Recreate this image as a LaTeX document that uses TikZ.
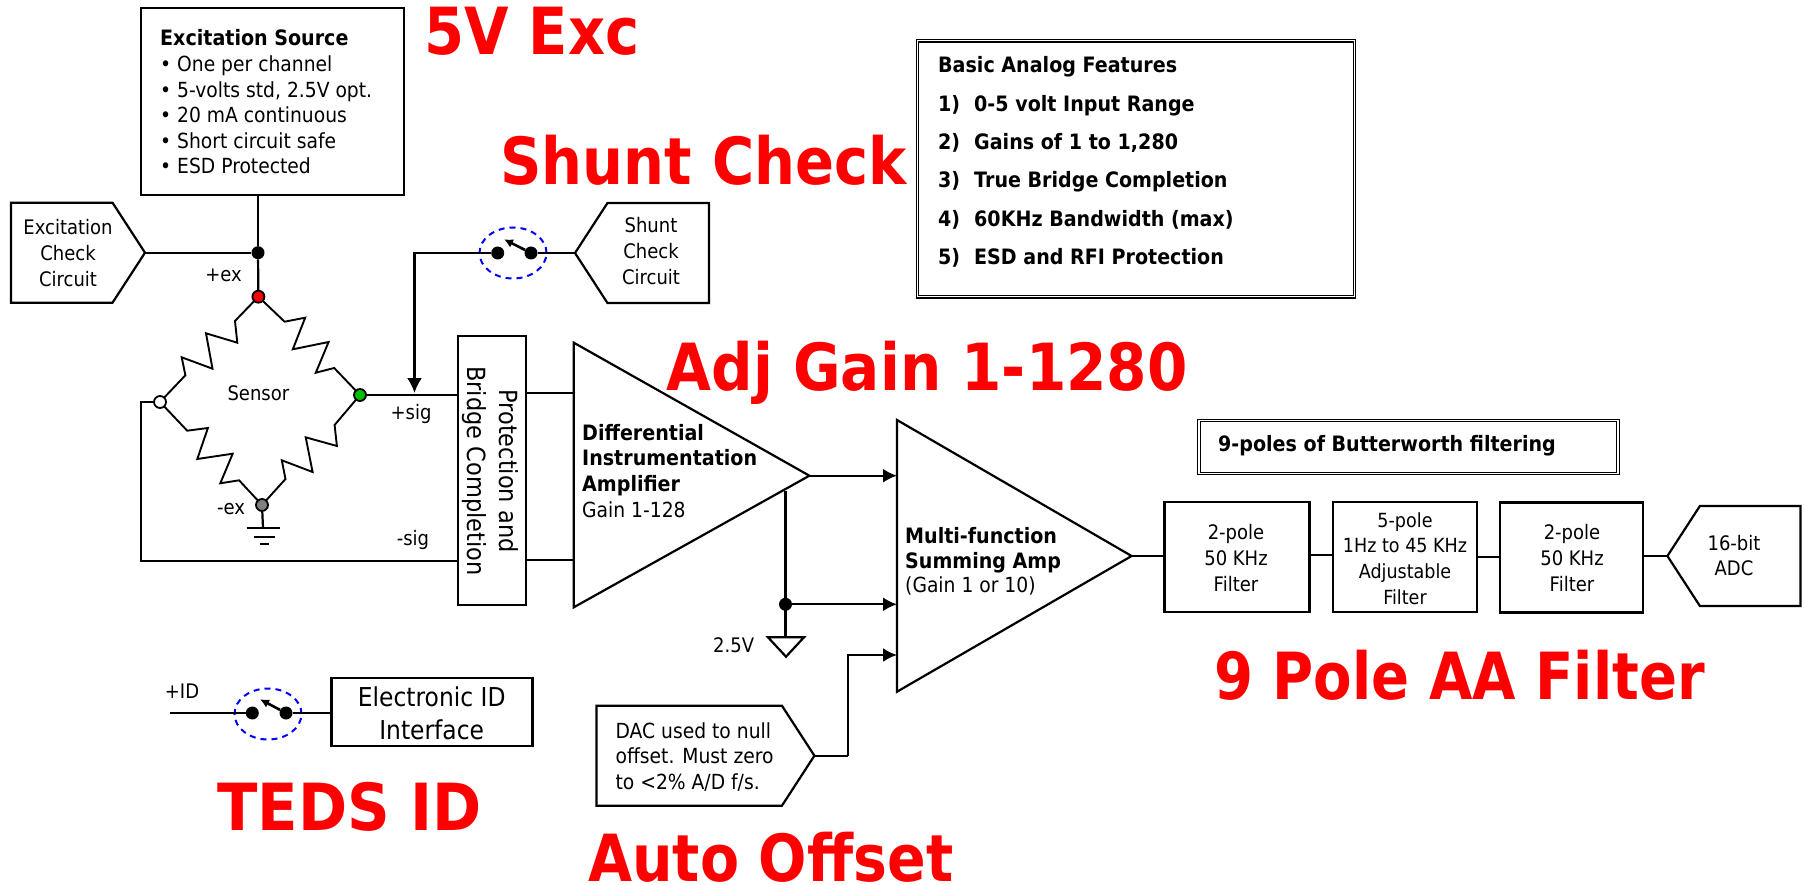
\documentclass[tikz,border=0pt]{standalone}
\usepackage{graphicx}
\usepackage{fontspec}
\usetikzlibrary{arrows.meta,shapes.symbols,shapes.geometric}
\setmainfont[FakeStretch=0.9]{DejaVu Sans}
\newfontfamily\headfont[FakeStretch=0.885]{DejaVu Sans}
\newcommand{\fsz}[2]{\fontsize{#1}{#2}\selectfont}
\tikzset{
	wire/.style={line width=2.2pt},
	feed/.style={wire, -{Latex[length=14pt,width=14pt]}},
	flip/.style={line width=2.6pt, -{Latex[length=9pt,width=9pt]}},
	box/.style={draw, line width=2.4pt, inner sep=0pt, outer sep=0pt},
	dblbox/.style={draw, double, double distance=1.3pt, line width=1.1pt, inner sep=0pt},
	tag/.style={signal, draw, line width=2.2pt, inner sep=0pt, outer sep=0pt, signal pointer angle=114, minimum height=100pt},
	jdot/.style={circle, fill=black, minimum size=13pt, inner sep=0pt},
	post/.style={circle, draw, line width=1.8pt, minimum size=12pt, inner sep=0pt},
	halo/.style={draw=blue, ellipse, line width=2pt, dash pattern=on 6pt off 5pt, minimum width=67pt, minimum height=51pt, inner sep=0pt},
	lbl/.style={font=\fsz{20}{25.6}, align=center, inner sep=0pt},
	lbll/.style={lbl, font=\fsz{20.8}{25.6}, align=left, anchor=west},
	head/.style={font=\headfont\bfseries\fsz{65}{65}, text=red, anchor=base west, inner sep=0pt},
}
\begin{document}
\begin{tikzpicture}[x=1pt,y=-1pt]
	\useasboundingbox (0,0) rectangle (1805,885);

	\node[box, minimum width=263, minimum height=187] (srcbox) at (272.2,101.5) {};
	\node[lbll] (srctxt) at (160,102) {{\fsz{21.2}{25.6}\textbf{Excitation Source}}\\\textbullet~One per channel\\\textbullet~5-volts std, 2.5V opt.\\\textbullet~20 mA continuous\\\textbullet~Short circuit safe\\\textbullet~ESD Protected};

	\node[tag, signal to=east, minimum width=134, anchor=east] (excchk) at (145,252.7) {};
	\node[lbl] (exctxt) at (68,253) {Excitation\\Check\\Circuit};
	\node[tag, signal to=west, minimum width=134, anchor=west] (shchk) at (575,253) {};
	\node[lbl] (shtxt) at (651,251) {Shunt\\Check\\Circuit};

	\node[jdot] (excjoin) at (258,252.7) {};
	\draw[wire] (srcbox.south -| excjoin) -- (excjoin);
	\draw[wire] (excchk.east) -- (excjoin);
	\node[lbl] (extop) at (223.6,275) {+ex};

	\coordinate (bridgetop) at (258.4,296.7);
	\coordinate (bridgeright) at (360,395);
	\coordinate (bridgeleft) at (160,402);
	\coordinate (bridgebot) at (262,505);
	\draw[wire, line width=1.9pt] (bridgetop) -- (284.6,321.7) -- (305.2,317.7) -- (292.8,349.3) -- (328.6,342) -- (315.8,372.7) -- (334.2,368) -- (bridgeright);
	\draw[wire, line width=1.9pt] (bridgetop) -- (235,321) -- (237.3,342.7) -- (206,333.3) -- (212.5,368.7) -- (181.7,357.3) -- (185.4,375.3) -- (bridgeleft);
	\draw[wire, line width=1.9pt] (bridgeleft) -- (187.2,430.7) -- (207.9,428) -- (197.3,459) -- (232.7,453.7) -- (220.3,483.3) -- (239.1,480.3) -- (bridgebot);
	\draw[wire, line width=1.9pt] (bridgeright) -- (334.6,425) -- (336.9,446) -- (305.7,437.3) -- (312.6,472) -- (281.8,460.3) -- (285.5,479) -- (bridgebot);
	\draw[wire] (excjoin) -- (bridgetop);
	\node[post, fill=red] (ptop) at (bridgetop) {};
	\node[post, fill=green!75!black] (pright) at (bridgeright) {};
	\node[post, fill=white] (pleft) at (bridgeleft) {};
	\node[post, fill=gray] (pbot) at (bridgebot) {};
	\node[lbl] (sensortxt) at (258.4,393.7) {Sensor};
	\node[lbl] (sigtop) at (411,414) {+sig};
	\node[lbl] (sigbot) at (413,540) {-sig};
	\node[lbl] (exbot) at (231,509) {-ex};

	\coordinate (gnd) at (263,527.7);
	\draw[wire] (pbot) -- (gnd);
	\draw[wire] (246.5,527.7) -- (280,527.7);
	\draw[wire] (254.3,536.7) -- (274.5,536.7);
	\draw[wire] (259.8,544) -- (269,544);

	\node[box, line width=2.2pt, minimum width=68, minimum height=268.7] (protbox) at (492,470.6) {};
	\node[lbl, rotate=-90, font=\fsz{25}{32}] (prottxt) at (490,471) {Protection and\\Bridge Completion};
	\coordinate (retcorner) at (141.3,561);
	\draw[wire] (pleft) -| (retcorner) -- (protbox.west |- retcorner);
	\draw[wire] (pright) -- (protbox.west |- pright);

	\node[jdot] (shsa) at (497.7,253) {};
	\node[jdot] (shsb) at (531,253) {};
	\coordinate (shtip) at (504,239.3);
	\node[halo] (shhalo) at (513,253) {};
	\draw[flip] (shsb) -- (shtip);
	\draw[wire] (shchk.west) -- (shsb);
	\coordinate (sigdrop) at (414.5,393);
	\draw[wire, -{Latex[length=15pt,width=15pt]}] (shsa) -| (sigdrop);

	\draw[wire] (573.8,342.7) -- (573.8,607.3) -- (809.4,475.7) -- cycle;
	\coordinate (aonea) at (573.8,392.7);
	\coordinate (aoneb) at (573.8,560);
	\coordinate (aoneout) at (809.4,475.7);
	\draw[wire] (protbox.east |- aonea) -- (aonea);
	\draw[wire] (protbox.east |- aoneb) -- (aoneb);
	\node[lbll, font=\bfseries\fsz{21.2}{25.6}] (aonetxt) at (582,460) {Differential\\Instrumentation\\Amplifier};
	\node[lbll] (aonegain) at (582,509.3) {Gain 1-128};

	\draw[wire] (897,420) -- (897,691.7) -- (1131.6,556) -- cycle;
	\coordinate (atwoa) at (897,475.7);
	\coordinate (atwob) at (897,604.3);
	\coordinate (atwoc) at (897,655);
	\coordinate (atwoout) at (1131.6,556);
	\draw[feed] (aoneout) -- (atwoa);
	\node[jdot] (refjoin) at (785.5,604.3) {};
	\coordinate (reftop) at (785.5,491);
	\coordinate (refbot) at (785.5,637.3);
	\draw[wire] (reftop) -- (refbot);
	\draw[feed] (refjoin) -- (atwob);
	\draw[wire] (768,637.3) -- (804,637.3) -- (786,656.7) -- cycle;
	\node[lbl] (reftxt) at (733.6,645) {2.5V};
	\node[lbll, font=\bfseries\fsz{21.2}{25}] (atwotxt) at (905,550) {Multi-function\\Summing Amp};
	\node[lbll] (atwogain) at (905,586) {(Gain 1 or 10)};

	\node[tag, signal to=east, minimum width=218, anchor=east] (dacbox) at (814.4,755.7) {};
	\node[lbll] (dactxt) at (615.4,757) {DAC used to null\\offset. Must zero\\to <2\% A/D f/s.};
	\coordinate (dacbend) at (848,755.7);
	\draw[wire] (dacbox.east) -- (dacbend);
	\draw[feed] (dacbend) |- (atwoc);

	\node[box, minimum width=145, minimum height=110] (fone) at (1237,557) {};
	\node[box, minimum width=144, minimum height=110] (ftwo) at (1404.7,557) {};
	\node[box, minimum width=143, minimum height=110] (fthree) at (1571.4,557.3) {};
	\node[tag, signal to=west, minimum width=133, anchor=west] (adc) at (1667.4,556) {};
	\node[lbl] (fonetxt) at (1236,558) {2-pole\\50 KHz\\Filter};
	\node[lbl, font=\fsz{19.5}{25.6}] (ftwotxt) at (1405,558.5) {5-pole\\1Hz to 45 KHz\\Adjustable\\Filter};
	\node[lbl] (fthreetxt) at (1572,558) {2-pole\\50 KHz\\Filter};
	\node[lbl] (adctxt) at (1734,555.5) {16-bit\\ADC};
	\draw[wire] (atwoout) -- (fone.west |- atwoout);
	\draw[wire] (fone.east |- 0,555.3) -- (ftwo.west |- 0,555.3);
	\draw[wire] (ftwo.east |- 0,557.3) -- (fthree.west |- 0,557.3);
	\draw[wire] (fthree.east |- adc.west) -- (adc.west);

	\node[lbl] (idtxt) at (182,691) {+ID};
	\coordinate (idin) at (170,713);
	\node[jdot] (idsa) at (252.3,713) {};
	\node[jdot] (idsb) at (286,713) {};
	\coordinate (idtip) at (260,699.3);
	\node[halo] (idhalo) at (268,714) {};
	\node[box, minimum width=201, minimum height=68] (idbox) at (432,711.7) {};
	\node[lbl, font=\fsz{26}{33}] (idboxtxt) at (431.7,713.5) {Electronic ID\\Interface};
	\draw[wire] (idin) -- (idsa);
	\draw[flip] (idsb) -- (idtip);
	\draw[wire] (idsb) -- (idbox.west |- idsb);

	\node[dblbox, minimum width=437, minimum height=256] (featbox) at (1135.8,168.8) {};
	\node[lbll, font=\bfseries\fsz{21.2}{38.4}] (feattxt) at (938,162) {Basic Analog Features\\\makebox[36pt][l]{1)}0-5 volt Input Range\\\makebox[36pt][l]{2)}Gains of 1 to 1,280\\\makebox[36pt][l]{3)}True Bridge Completion\\\makebox[36pt][l]{4)}60KHz Bandwidth (max)\\\makebox[36pt][l]{5)}ESD and RFI Protection};
	\node[dblbox, minimum width=419, minimum height=53] (butterbox) at (1408.4,447) {};
	\node[lbll, font=\bfseries\fsz{21.2}{25}] (buttertxt) at (1218,446) {9-poles of Butterworth filtering};

	\node[head] (excdhead) at (424,55) {5V Exc};
	\node[head] (shunthead) at (500,185) {Shunt Check};
	\node[head] (gainhead) at (666.5,390) {\scalebox{1.009}[1]{Adj Gain 1-1280}};
	\node[head] (aahead) at (1214,699) {\scalebox{0.975}[1]{9 Pole AA Filter}};
	\node[head] (tedshead) at (217,830) {\scalebox{1.03}[1]{TEDS ID}};
	\node[head] (autohead) at (588,881.7) {\scalebox{0.99}[1]{Auto Offset}};
\end{tikzpicture}
\end{document}
